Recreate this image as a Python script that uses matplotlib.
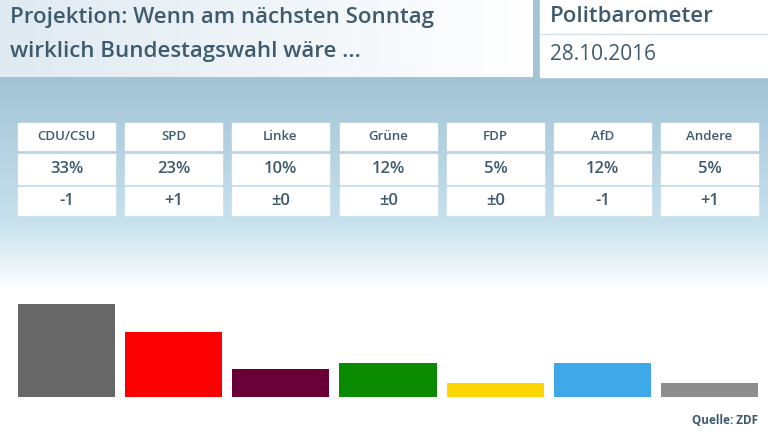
import numpy as np
import matplotlib
matplotlib.use("Agg")
import matplotlib.pyplot as plt
from matplotlib.patches import Rectangle
from matplotlib.colors import LinearSegmentedColormap

parties = ["CDU/CSU", "SPD", "Linke", "Grüne", "FDP", "AfD", "Andere"]
values = [33, 23, 10, 12, 5, 12, 5]
changes = ["-1", "+1", "±0", "±0", "±0", "-1", "+1"]
colors = ["#676767", "#fb0000", "#6a0036", "#0a8a00", "#fcd600", "#3ea8e8", "#8e8e8e"]
title_lines = ["Projektion: Wenn am nächsten Sonntag", "wirklich Bundestagswahl wäre ..."]
brand = "Politbarometer"
date = "28.10.2016"
source = "Quelle: ZDF"

W, H = 768, 432
fig = plt.figure(figsize=(W/100, H/100), dpi=100)
bg = fig.add_axes([0, 0, 1, 1])
bg.set_xlim(0, W); bg.set_ylim(H, 0); bg.axis("off")

c_top = np.array([0.64, 0.77, 0.84]); c_mid = np.array([0.78, 0.88, 0.93]); c_bot = np.array([1, 1, 1])
img = np.zeros((432, 1, 3))
for y in range(432):
    if y < 80:
        c = c_top
    elif y < 220:
        t = (y-80)/140; c = c_top*(1-t)+c_mid*t
    elif y < 290:
        t = (y-220)/70; c = c_mid*(1-t)+c_bot*t
    else:
        c = c_bot
    img[y, 0] = c
bg.imshow(img, extent=[0, W, H, 0], aspect="auto", zorder=0)

txt = "#3e5b6d"
font = "Open Sans"
grad = np.linspace(0, 1, 256)[None, :]
hcm = LinearSegmentedColormap.from_list("h", ["#dfeaf1", "#ffffff"])
bg.imshow(grad, cmap=hcm, extent=[0, 533, 77, 0], aspect="auto", zorder=1)
bg.add_patch(Rectangle((540, 0), 228, 77, color="white", zorder=1))
bg.plot([540, 768], [34, 34], color="#d6e4ec", lw=1, zorder=2)
bg.set_xlim(0, W); bg.set_ylim(H, 0)
bg.text(10, 17, title_lines[0], fontsize=16, color=txt, va="center", fontfamily=font, fontweight="semibold", zorder=3)
bg.text(10, 52, title_lines[1], fontsize=16, color=txt, va="center", fontfamily=font, fontweight="semibold", zorder=3)
bg.text(550, 17, brand, fontsize=16, color=txt, va="center", fontfamily=font, fontweight="semibold", zorder=3)
bg.text(550, 54, date, fontsize=15, color=txt, va="center", fontfamily=font, zorder=3)

x0s = [18, 125, 232, 340, 447, 554, 661]
bw = 97
rows = [(123, 150), (154, 184), (187, 215)]
for i, p in enumerate(parties):
    x = x0s[i]
    for (a, b), s, fs in zip(rows, [p, f"{values[i]}%", changes[i]], [9.5, 12, 12]):
        bg.add_patch(Rectangle((x, a), bw, b-a, color="white", zorder=2))
        bg.text(x+bw/2, (a+b)/2, s, ha="center", va="center", fontsize=fs, color=txt,
                fontfamily=font, fontweight="semibold", zorder=3)

bg.text(758, 420, source, ha="right", va="center", fontsize=8.5, color=txt, fontfamily=font, fontweight="bold", zorder=3)

ax = fig.add_axes([13/W, (H-397)/H, 750/W, 117/H])
ax.patch.set_alpha(0)
ax.bar(range(len(values)), values, width=bw/107, color=colors)
ax.set_xlim(-0.5, 6.5); ax.set_ylim(0, 117/2.82)
ax.axis("off")

fig.savefig("out.png", dpi=100)
